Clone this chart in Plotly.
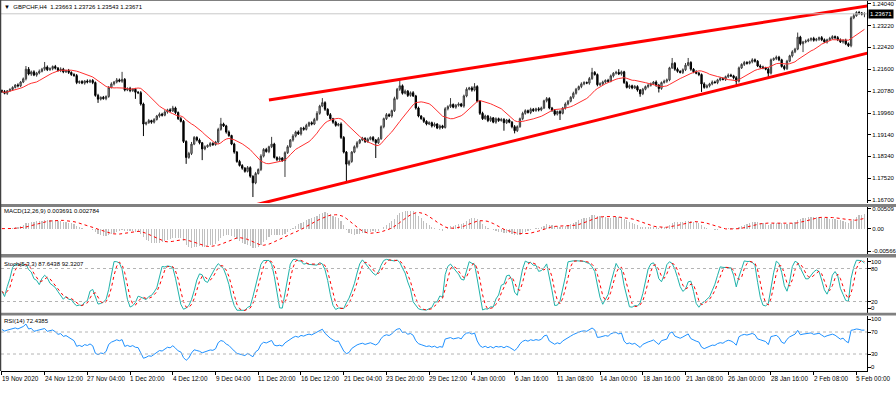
import numpy as np
import pandas as pd
import plotly.graph_objects as go

# ---------------- DATA (prices in pips: value / 10000) ----------------
close_pips = [
    12076, 12070, 12079, 12084, 12092, 12101, 12098, 12112, 12124, 12160,
    12142, 12150, 12138, 12146, 12152, 12160, 12168, 12158, 12162, 12170,
    12164, 12155, 12160, 12150, 12155, 12148, 12140, 12136, 12110, 12114,
    12108, 12116, 12112, 12118, 12110, 12062, 12048, 12055, 12050, 12058,
    12092, 12105, 12112, 12120, 12115, 12122, 12082, 12088, 12080, 12085,
    12074, 12072, 12030, 11955, 11960, 11968, 11962, 11972, 11985, 11992,
    11988, 12000, 12008, 12004, 12015, 11998, 11975, 11965, 11890, 11830,
    11845, 11880, 11905, 11895, 11885, 11862, 11870, 11875, 11882, 11878,
    11888, 11935, 11955, 11948, 11925, 11912, 11880, 11850, 11815, 11800,
    11790, 11778, 11792, 11760, 11735, 11770, 11785, 11835, 11860, 11852,
    11870, 11880, 11830, 11822, 11828, 11818, 11848, 11870, 11895, 11910,
    11925, 11918, 11940, 11935, 11950, 11960, 11955, 11972, 11995, 12022,
    12035, 12010, 11990, 11975, 11962, 11950, 11955, 11905, 11850, 11805,
    11815, 11850, 11870, 11885, 11895, 11902, 11890, 11898, 11905, 11895,
    11885, 11900, 11945, 11975, 11990, 11985, 12005, 12050, 12085, 12098,
    12070, 12078, 12062, 12072, 12060, 12015, 11985, 11975, 11965, 11955,
    11960, 11948, 11955, 11940, 11948, 11942, 12012, 12020, 12028, 12018,
    12025, 12030, 12022, 12060, 12085, 12090, 12082, 12095, 12040, 11995,
    11975, 11985, 11968, 11978, 11962, 11975, 11968, 11972, 11960, 11970,
    11962, 11945, 11930, 11945, 11975, 11995, 12005, 11998, 12010, 12005,
    12012, 12008, 12015, 12042, 12050, 12015, 12005, 11992, 12002, 11995,
    12015, 12030, 12040, 12055, 12070, 12085, 12095, 12105, 12110, 12108,
    12125, 12148, 12140, 12102, 12105, 12112, 12118, 12115, 12135, 12145,
    12148, 12142, 12150, 12110, 12092, 12098, 12090, 12095, 12082, 12068,
    12085, 12095, 12100, 12105, 12112, 12100, 12088, 12110, 12115, 12120,
    12165, 12182, 12160, 12152, 12148, 12158, 12175, 12185, 12160, 12150,
    12145, 12140, 12105, 12092, 12098, 12105, 12112, 12110, 12120, 12125,
    12122, 12132, 12138, 12135, 12128, 12115, 12165, 12178, 12185, 12182,
    12188, 12195, 12190, 12172, 12168, 12165, 12160, 12145, 12195, 12200,
    12205, 12195, 12170, 12162, 12190, 12210, 12225, 12235, 12280, 12255,
    12262, 12265, 12270, 12275, 12268, 12272, 12278, 12270, 12262, 12270,
    12275, 12282, 12278, 12270, 12262, 12268, 12255, 12248, 12352, 12360,
    12372, 12370, 12366.3, 12367.1,
]
open_pips = [
    12080, 12076, 12070, 12079, 12084, 12092, 12101, 12098, 12112, 12124,
    12160, 12142, 12150, 12138, 12146, 12152, 12160, 12168, 12158, 12162,
    12170, 12164, 12155, 12160, 12150, 12155, 12148, 12140, 12136, 12110,
    12114, 12108, 12116, 12112, 12118, 12110, 12062, 12048, 12055, 12050,
    12058, 12092, 12105, 12112, 12120, 12115, 12122, 12082, 12088, 12080,
    12085, 12074, 12072, 12030, 11955, 11960, 11968, 11962, 11972, 11985,
    11992, 11988, 12000, 12008, 12004, 12015, 11998, 11975, 11965, 11890,
    11830, 11845, 11880, 11905, 11895, 11885, 11862, 11870, 11875, 11882,
    11878, 11888, 11935, 11955, 11948, 11925, 11912, 11880, 11850, 11815,
    11800, 11790, 11778, 11792, 11760, 11735, 11770, 11785, 11835, 11860,
    11852, 11870, 11880, 11830, 11822, 11828, 11818, 11848, 11870, 11895,
    11910, 11925, 11918, 11940, 11935, 11950, 11960, 11955, 11972, 11995,
    12022, 12035, 12010, 11990, 11975, 11962, 11950, 11955, 11905, 11850,
    11805, 11815, 11850, 11870, 11885, 11895, 11902, 11890, 11898, 11905,
    11895, 11885, 11900, 11945, 11975, 11990, 11985, 12005, 12050, 12085,
    12098, 12070, 12078, 12062, 12072, 12060, 12015, 11985, 11975, 11965,
    11955, 11960, 11948, 11955, 11940, 11948, 11942, 12012, 12020, 12028,
    12018, 12025, 12030, 12022, 12060, 12085, 12090, 12082, 12095, 12040,
    11995, 11975, 11985, 11968, 11978, 11962, 11975, 11968, 11972, 11960,
    11970, 11962, 11945, 11930, 11945, 11975, 11995, 12005, 11998, 12010,
    12005, 12012, 12008, 12015, 12042, 12050, 12015, 12005, 11992, 12002,
    11995, 12015, 12030, 12040, 12055, 12070, 12085, 12095, 12105, 12110,
    12108, 12125, 12148, 12140, 12102, 12105, 12112, 12118, 12115, 12135,
    12145, 12148, 12142, 12150, 12110, 12092, 12098, 12090, 12095, 12082,
    12068, 12085, 12095, 12100, 12105, 12112, 12100, 12088, 12110, 12115,
    12120, 12165, 12182, 12160, 12152, 12148, 12158, 12175, 12185, 12160,
    12150, 12145, 12140, 12105, 12092, 12098, 12105, 12112, 12110, 12120,
    12125, 12122, 12132, 12138, 12135, 12128, 12115, 12165, 12178, 12185,
    12182, 12188, 12195, 12190, 12172, 12168, 12165, 12160, 12145, 12195,
    12200, 12205, 12195, 12170, 12162, 12190, 12210, 12225, 12235, 12280,
    12255, 12262, 12265, 12270, 12275, 12268, 12272, 12278, 12270, 12262,
    12270, 12275, 12282, 12278, 12270, 12262, 12268, 12255, 12248, 12352,
    12360, 12372, 12370, 12366.3,
]
upper_wick_pips = [
    4, 6, 3, 5, 4, 3, 6, 4, 5, 12,
    8, 5, 6, 4, 7, 5, 19, 6, 5, 4,
    6, 4, 7, 5, 3, 6, 4, 5, 6, 4,
    5, 3, 6, 4, 5, 4, 6, 3, 5, 4,
    5, 6, 4, 7, 5, 28, 5, 4, 6, 3,
    5, 4, 6, 5, 4, 6, 3, 5, 4, 6,
    5, 7, 4, 6, 8, 5, 4, 6, 5, 4,
    6, 8, 5, 4, 6, 3, 5, 4, 6, 5,
    4, 6, 23, 5, 4, 6, 3, 5, 4, 6,
    5, 4, 6, 5, 3, 6, 4, 7, 5, 6,
    4, 27, 5, 4, 6, 3, 5, 6, 4, 7,
    5, 6, 4, 5, 6, 4, 5, 6, 8, 5,
    17, 5, 4, 6, 3, 5, 4, 6, 5, 4,
    6, 4, 5, 6, 4, 5, 3, 6, 4, 5,
    4, 6, 5, 4, 6, 5, 4, 7, 5, 22,
    5, 6, 4, 5, 6, 4, 5, 3, 6, 4,
    5, 4, 6, 3, 5, 4, 6, 5, 24, 4,
    5, 6, 4, 5, 7, 4, 6, 13, 5, 4,
    6, 5, 4, 6, 3, 5, 4, 6, 5, 4,
    5, 4, 6, 5, 4, 6, 5, 4, 6, 5,
    4, 6, 5, 4, 6, 5, 4, 6, 3, 5,
    4, 6, 5, 4, 6, 5, 4, 6, 5, 4,
    6, 17, 5, 4, 6, 5, 4, 6, 5, 4,
    6, 12, 5, 4, 6, 5, 4, 6, 5, 4,
    5, 4, 6, 5, 4, 6, 5, 4, 6, 5,
    4, 20, 5, 6, 4, 5, 8, 17, 5, 4,
    6, 5, 4, 6, 5, 4, 6, 5, 4, 6,
    5, 4, 6, 5, 4, 6, 5, 4, 6, 5,
    4, 6, 5, 4, 6, 5, 4, 6, 5, 4,
    6, 5, 4, 6, 5, 4, 6, 5, 17, 5,
    4, 6, 5, 4, 6, 5, 4, 6, 5, 4,
    6, 5, 4, 6, 5, 4, 6, 5, 6, 8,
    5, 6, 4, 5.5,
]
lower_wick_pips = [
    5, 4, 6, 3, 5, 4, 6, 5, 4, 6,
    5, 7, 4, 6, 5, 4, 6, 5, 4, 6,
    5, 4, 6, 5, 4, 6, 5, 4, 6, 5,
    4, 6, 5, 4, 6, 5, 14, 5, 4, 6,
    5, 4, 6, 5, 4, 6, 5, 4, 6, 5,
    25, 5, 6, 45, 5, 4, 6, 5, 4, 6,
    5, 4, 6, 5, 4, 6, 5, 4, 6, 24,
    5, 6, 4, 5, 6, 42, 5, 4, 6, 5,
    4, 6, 5, 4, 6, 5, 4, 6, 5, 4,
    6, 5, 4, 6, 53, 5, 4, 6, 5, 4,
    6, 5, 4, 6, 5, 4, 61, 5, 4, 6,
    5, 4, 6, 5, 4, 6, 5, 4, 6, 5,
    4, 6, 5, 4, 6, 5, 4, 6, 5, 70,
    6, 5, 4, 6, 5, 4, 6, 5, 4, 6,
    57, 5, 4, 6, 5, 4, 6, 5, 4, 6,
    5, 4, 6, 5, 4, 6, 5, 4, 6, 5,
    4, 6, 5, 4, 6, 5, 4, 6, 5, 4,
    6, 5, 4, 6, 5, 4, 6, 5, 4, 6,
    5, 4, 6, 5, 4, 6, 5, 4, 30, 5,
    4, 6, 10, 5, 4, 6, 5, 4, 6, 5,
    4, 6, 5, 4, 6, 5, 4, 6, 5, 25,
    4, 6, 5, 4, 6, 5, 4, 6, 5, 4,
    6, 5, 4, 6, 5, 4, 6, 5, 4, 6,
    5, 4, 6, 5, 4, 6, 5, 4, 6, 11,
    5, 4, 6, 5, 4, 6, 15, 5, 4, 6,
    5, 4, 6, 5, 4, 6, 5, 4, 6, 5,
    4, 6, 30, 5, 4, 6, 5, 4, 6, 5,
    4, 6, 5, 4, 6, 15, 5, 4, 6, 5,
    4, 6, 5, 4, 6, 5, 4, 15, 5, 4,
    6, 5, 4, 6, 5, 4, 6, 5, 4, 6,
    31, 5, 4, 6, 5, 4, 6, 5, 4, 6,
    5, 4, 6, 5, 4, 6, 5, 5, 6, 5,
    4, 6, 5, 12,
]

# Trend lines (bar index, price)
upper_line_idx = [100, 325]
upper_line_px = [1.2045, 1.2398]
lower_line_idx = [95, 325]
lower_line_px = [1.1653, 1.2222]

# Axis ticks / labels
time_tick_idx = [0, 16, 32, 48, 64, 80, 96, 112, 128, 144, 160, 176, 192,
                 208, 224, 240, 256, 272, 288, 304, 320]
time_tick_text = ["19 Nov 2020", "24 Nov 12:00", "27 Nov 04:00", "1 Dec 20:00",
                  "4 Dec 12:00", "9 Dec 04:00", "11 Dec 20:00", "16 Dec 12:00",
                  "21 Dec 04:00", "23 Dec 20:00", "29 Dec 12:00", "4 Jan 00:00",
                  "6 Jan 16:00", "11 Jan 08:00", "14 Jan 00:00", "18 Jan 16:00",
                  "21 Jan 08:00", "26 Jan 00:00", "28 Jan 16:00", "2 Feb 08:00",
                  "5 Feb 00:00"]
price_ticks = [1.24040, 1.23220, 1.22420, 1.21600, 1.20780, 1.19960,
               1.19140, 1.18340, 1.17520, 1.16700]
macd_tick_vals = [0.00509, 0.0, -0.00566]
macd_tick_text = ["0.00509", "0.00", "-0.00566"]
stoch_levels = [80, 20]
stoch_label_pos = [92.5, 80, 20, 7.5]
stoch_tick_text = ["100", "80", "20", "0"]
rsi_levels = [70, 30]
rsi_label_pos = [93.5, 70, 30, 5.5]
rsi_tick_text = ["100", "70", "30", "0"]

title_text = "\u25BC  GBPCHF,H4  1.23663 1.23726 1.23543 1.23671"
macd_label = "MACD(12,26,9) 0.003691 0.002784"
stoch_label = "Stoch(5,3,3) 87.6438 92.3207"
rsi_label = "RSI(14) 72.4385"
last_price = 1.23671

# ---------------- derived series (indicators from the OHLC data) ----------------
o = np.array(open_pips, dtype=float) / 1e4
c = np.array(close_pips, dtype=float) / 1e4
h = np.maximum(o, c) + np.array(upper_wick_pips, dtype=float) / 1e4
l = np.minimum(o, c) - np.array(lower_wick_pips, dtype=float) / 1e4
x = np.arange(len(c))
cs = pd.Series(c)

ma = cs.rolling(14, min_periods=1).mean()
macd = cs.ewm(span=12, adjust=False).mean() - cs.ewm(span=26, adjust=False).mean()
signal = macd.rolling(9, min_periods=1).mean()
ll = pd.Series(l).rolling(5, min_periods=1).min()
hh = pd.Series(h).rolling(5, min_periods=1).max()
k = 100 * (cs - ll).rolling(3, min_periods=1).sum() / (hh - ll).rolling(3, min_periods=1).sum()
d = k.rolling(3, min_periods=1).mean()

delta = np.diff(c, prepend=c[0])
gains = np.clip(delta, 0, None)
losses = np.clip(-delta, 0, None)
ag = gains[1:15].mean()
al = losses[1:15].mean()
rsi = []
for i in range(len(c)):
    if i > 0:
        ag = (ag * 13 + gains[i]) / 14
        al = (al * 13 + losses[i]) / 14
    rsi.append(100.0 if al == 0 else 100 - 100 / (1 + ag / al))

# ---------------- layout helpers ----------------
W, H = 896, 396
FONT = "Tahoma, 'Liberation Sans', Arial, sans-serif"
def PX(px):
    return px / W
def PY(py):
    return 1 - py / H

XL, XR = 1, 867
xrange = [-0.34, 323.96]

fig = go.Figure()

fig.add_trace(go.Candlestick(
    x=x, open=o, high=h, low=l, close=c, xaxis="x", yaxis="y",
    increasing=dict(line=dict(color="#3c3c3c", width=1), fillcolor="#b4b4b4"),
    decreasing=dict(line=dict(color="#000000", width=1), fillcolor="#000000"),
    whiskerwidth=0, showlegend=False, hoverinfo="skip"))
fig.add_trace(go.Scatter(x=x, y=ma, mode="lines", line=dict(color="#ff3030", width=1),
                         xaxis="x", yaxis="y", showlegend=False, hoverinfo="skip"))
fig.add_trace(go.Scatter(x=upper_line_idx, y=upper_line_px, mode="lines",
                         line=dict(color="#ff0000", width=3), xaxis="x", yaxis="y",
                         showlegend=False, hoverinfo="skip"))
fig.add_trace(go.Scatter(x=lower_line_idx, y=lower_line_px, mode="lines",
                         line=dict(color="#ff0000", width=3), xaxis="x", yaxis="y",
                         showlegend=False, hoverinfo="skip"))

fig.add_trace(go.Bar(x=x, y=macd, width=0.45, marker=dict(color="#c0c0c0", line=dict(width=0)),
                     xaxis="x2", yaxis="y2", showlegend=False, hoverinfo="skip"))
fig.add_trace(go.Scatter(x=x, y=signal, mode="lines", line=dict(color="#ff0000", width=1, dash="dot"),
                         xaxis="x2", yaxis="y2", showlegend=False, hoverinfo="skip"))

fig.add_trace(go.Scatter(x=x, y=k, mode="lines", line=dict(color="#20b2aa", width=1),
                         xaxis="x3", yaxis="y3", showlegend=False, hoverinfo="skip"))
fig.add_trace(go.Scatter(x=x, y=d, mode="lines", line=dict(color="#ff0000", width=1, dash="dot"),
                         xaxis="x3", yaxis="y3", showlegend=False, hoverinfo="skip"))

fig.add_trace(go.Scatter(x=x, y=rsi, mode="lines", line=dict(color="#1e90ff", width=1),
                         xaxis="x4", yaxis="y4", showlegend=False, hoverinfo="skip"))

xcommon = dict(domain=[PX(XL), PX(XR)], range=xrange, showgrid=False, zeroline=False,
               showticklabels=False, fixedrange=True)
ycommon = dict(side="right", showgrid=False, zeroline=False, showline=True, linecolor="#000000",
               linewidth=1, ticks="outside", ticklen=3, tickcolor="#000000",
               tickfont=dict(family=FONT, size=6, color="#000000"), fixedrange=True)

fig.update_layout(
    width=W, height=H, margin=dict(l=0, r=0, t=0, b=0),
    paper_bgcolor="white", plot_bgcolor="white", showlegend=False, bargap=0,
    xaxis=dict(**xcommon, anchor="y", rangeslider=dict(visible=False)),
    xaxis2=dict(**xcommon, anchor="y2", matches="x"),
    xaxis3=dict(**xcommon, anchor="y3", matches="x"),
    xaxis4=dict(domain=[PX(XL), PX(XR)], range=xrange, showgrid=False, zeroline=False,
                anchor="y4", matches="x", showticklabels=False, ticks="outside", ticklen=3,
                tickcolor="#000000", tickvals=time_tick_idx, showline=True,
                linecolor="#000000", linewidth=1, fixedrange=True),
    yaxis=dict(**ycommon, domain=[PY(203), PY(1)], range=[1.16597, 1.2415], anchor="x",
               tickvals=price_ticks, ticktext=["%.5f" % v for v in price_ticks]),
    yaxis2=dict(**ycommon, domain=[PY(254), PY(207)], range=[-0.00642, 0.00547], anchor="x2",
                tickvals=macd_tick_vals, ticktext=macd_tick_text),
    yaxis3=dict(**ycommon, domain=[PY(312.5), PY(257.5)], range=[0, 100], anchor="x3",
                tickvals=stoch_label_pos, showticklabels=False),
    yaxis4=dict(**ycommon, domain=[PY(370.5), PY(315.5)], range=[0, 100], anchor="x4",
                tickvals=rsi_label_pos, showticklabels=False),
)

shapes = []
shapes.append(dict(type="line", xref="paper", yref="y", x0=PX(XL), x1=PX(XR),
                   y0=last_price, y1=last_price, line=dict(color="#c8c8c8", width=1)))
for lv in stoch_levels:
    shapes.append(dict(type="line", xref="paper", yref="y3", x0=PX(XL), x1=PX(XR),
                       y0=lv, y1=lv, line=dict(color="#b4b4b4", width=1, dash="dot")))
for lv in rsi_levels:
    shapes.append(dict(type="line", xref="paper", yref="y4", x0=PX(XL), x1=PX(XR),
                       y0=lv, y1=lv, line=dict(color="#b4b4b4", width=1, dash="dot")))
for (t, b) in [(204, 207), (254, 257.5), (312.8, 315.5)]:
    shapes.append(dict(type="rect", xref="paper", yref="paper", x0=0, x1=1,
                       y0=PY(b), y1=PY(t), fillcolor="#808080", line=dict(width=0)))
shapes.append(dict(type="line", xref="paper", yref="paper", x0=0, x1=1, y0=PY(0.5), y1=PY(0.5),
                   line=dict(color="#808080", width=1)))
shapes.append(dict(type="line", xref="paper", yref="paper", x0=PX(0.5), x1=PX(0.5),
                   y0=PY(371), y1=PY(0), line=dict(color="#404040", width=1.5)))
fig.update_layout(shapes=shapes)

ann = []
def label(px, py, text, size=6):
    ann.append(dict(xref="paper", yref="paper", x=PX(px), y=PY(py), text=text, showarrow=False,
                    xanchor="left", yanchor="middle", font=dict(family=FONT, size=size, color="#000000")))
label(2, 6.5, title_text)
label(2, 210.5, macd_label)
label(2, 263.5, stoch_label)
label(2, 320.5, rsi_label)
for idx, txt in zip(time_tick_idx, time_tick_text):
    ann.append(dict(xref="x4", yref="paper", x=idx, y=PY(378.5), text=txt, showarrow=False,
                    xanchor="left", yanchor="middle", xshift=-2,
                    font=dict(family=FONT, size=6.4, color="#000000")))
for axref, poss, txts in [("y3", stoch_label_pos, stoch_tick_text), ("y4", rsi_label_pos, rsi_tick_text)]:
    for pv, txt in zip(poss, txts):
        ann.append(dict(xref="paper", yref=axref, x=PX(869), y=pv, text=txt, showarrow=False,
                        xanchor="left", yanchor="middle",
                        font=dict(family=FONT, size=6, color="#000000")))
ann.append(dict(xref="paper", yref="y", x=PX(868), y=last_price, text="1.23671", showarrow=False,
                xanchor="left", yanchor="middle", bgcolor="#000000", borderpad=1,
                font=dict(family=FONT, size=6, color="#ffffff")))
fig.update_layout(annotations=ann)

fig.write_html("out.html", config={"displayModeBar": False, "staticPlot": True},
               post_script="document.body.style.margin='0';document.body.style.overflow='hidden';")
